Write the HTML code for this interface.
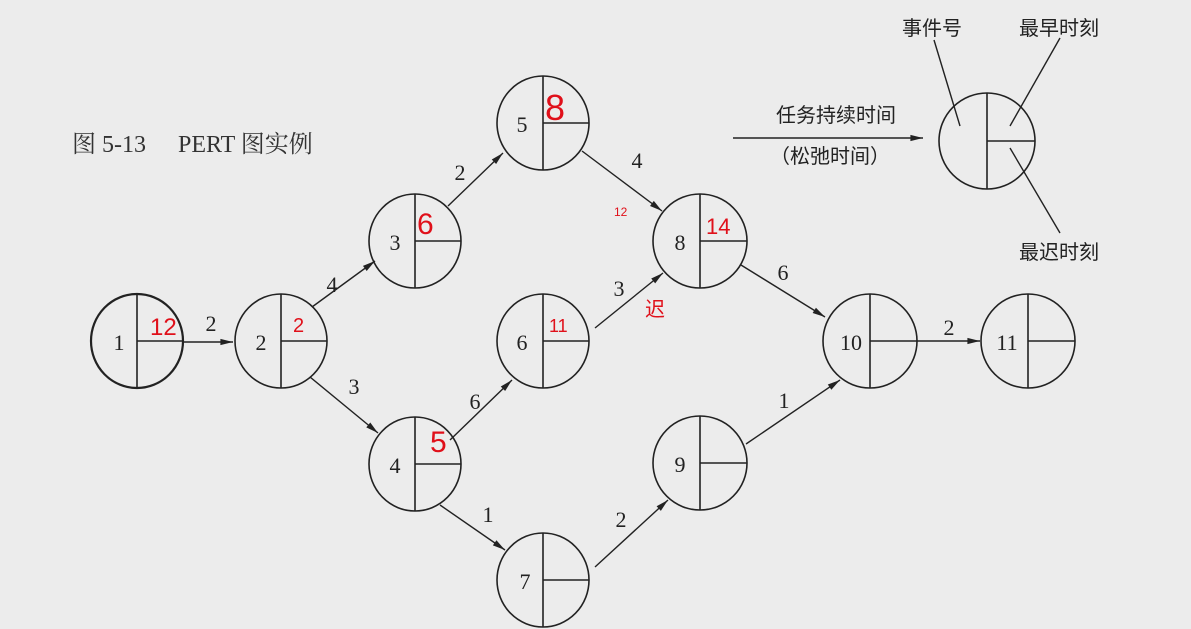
<!DOCTYPE html>
<html><head><meta charset="utf-8"><style>
html,body{margin:0;padding:0;background:#ececec;}
svg{display:block;}
.t{font-family:"Liberation Serif",serif;font-size:22px;fill:#222;}
.c{font-family:"Liberation Sans","Noto Sans CJK SC",sans-serif;font-size:20px;fill:#222;}
.r{font-family:"Liberation Sans",sans-serif;fill:none;stroke:#e0101a;stroke-width:1.3;}
</style></head><body>
<svg width="1191" height="629" viewBox="0 0 1191 629" xmlns="http://www.w3.org/2000/svg">
<defs><marker id="a" viewBox="0 0 14 10" refX="14" refY="5" markerWidth="14" markerHeight="9" orient="auto" markerUnits="userSpaceOnUse"><path d="M0,1.5 L14,5 L0,8.5z" fill="#222"/></marker></defs>
<rect width="1191" height="629" fill="#ececec"/>
<text x="72" y="152" font-family="'Liberation Serif','Noto Serif CJK SC',serif" font-size="24" fill="#333">图 5-13</text>
<text x="178" y="152" font-family="'Liberation Serif','Noto Serif CJK SC',serif" font-size="24" fill="#333">PERT 图实例</text>
<g stroke="#222" stroke-width="1.4" fill="none">
<line x1="183" y1="342" x2="233" y2="342" marker-end="url(#a)"/>
<line x1="312" y1="307" x2="375" y2="261" marker-end="url(#a)"/>
<line x1="310" y1="377" x2="378" y2="433" marker-end="url(#a)"/>
<line x1="448" y1="206" x2="503" y2="153" marker-end="url(#a)"/>
<line x1="450" y1="440" x2="512" y2="380" marker-end="url(#a)"/>
<line x1="440" y1="505" x2="505" y2="550" marker-end="url(#a)"/>
<line x1="582" y1="151" x2="662" y2="211" marker-end="url(#a)"/>
<line x1="595" y1="328" x2="663" y2="273" marker-end="url(#a)"/>
<line x1="595" y1="567" x2="668" y2="500" marker-end="url(#a)"/>
<line x1="741" y1="265" x2="825" y2="317" marker-end="url(#a)"/>
<line x1="746" y1="444" x2="840" y2="380" marker-end="url(#a)"/>
<line x1="917" y1="341" x2="980" y2="341" marker-end="url(#a)"/>
<line x1="733" y1="138" x2="923" y2="138" marker-end="url(#a)"/>
<line x1="934" y1="40" x2="960" y2="126"/>
<line x1="1060" y1="38" x2="1010" y2="126"/>
<line x1="1010" y1="148" x2="1060" y2="233"/>
</g>
<g stroke="#222" stroke-width="1.6" fill="none">
<ellipse cx="137" cy="341" rx="46" ry="47" stroke-width="2.2"/><path d="M137 294V388M137 341H183"/>
<ellipse cx="281" cy="341" rx="46" ry="47"/><path d="M281 294V388M281 341H327"/>
<ellipse cx="415" cy="241" rx="46" ry="47"/><path d="M415 194V288M415 241H461"/>
<ellipse cx="415" cy="464" rx="46" ry="47"/><path d="M415 417V511M415 464H461"/>
<ellipse cx="543" cy="123" rx="46" ry="47"/><path d="M543 76V170M543 123H589"/>
<ellipse cx="543" cy="341" rx="46" ry="47"/><path d="M543 294V388M543 341H589"/>
<ellipse cx="543" cy="580" rx="46" ry="47"/><path d="M543 533V627M543 580H589"/>
<ellipse cx="700" cy="241" rx="47" ry="47"/><path d="M700 194V288M700 241H747"/>
<ellipse cx="700" cy="463" rx="47" ry="47"/><path d="M700 416V510M700 463H747"/>
<ellipse cx="870" cy="341" rx="47" ry="47"/><path d="M870 294V388M870 341H917"/>
<ellipse cx="1028" cy="341" rx="47" ry="47"/><path d="M1028 294V388M1028 341H1075"/>
<ellipse cx="987" cy="141" rx="48" ry="48"/><path d="M987 93V189M987 141H1035"/>
</g>
<g class="t" text-anchor="middle">
<text x="119" y="350">1</text><text x="261" y="350">2</text><text x="395" y="250">3</text>
<text x="395" y="473">4</text><text x="522" y="132">5</text><text x="522" y="350">6</text>
<text x="525" y="589">7</text><text x="680" y="250">8</text><text x="680" y="472">9</text>
<text x="851" y="350">10</text><text x="1007" y="350">11</text>
<text x="211" y="331">2</text><text x="332" y="292">4</text><text x="354" y="394">3</text>
<text x="460" y="180">2</text><text x="637" y="168">4</text><text x="475" y="409">6</text>
<text x="619" y="296">3</text><text x="488" y="522">1</text><text x="621" y="527">2</text>
<text x="783" y="280">6</text><text x="784" y="408">1</text><text x="949" y="335">2</text>
</g>
<g class="c" text-anchor="middle">
<text x="836" y="122">任务持续时间</text>
<text x="830" y="163">（松弛时间）</text>
<text x="932" y="35">事件号</text>
<text x="1059" y="35">最早时刻</text>
<text x="1059" y="259">最迟时刻</text>
</g>
<g fill="#e0101a" font-family="'Liberation Sans',sans-serif">
<text x="150" y="335" font-size="24" font-weight="300">12</text>
<text x="293" y="332" font-size="20">2</text>
<text x="417" y="234" font-size="30">6</text>
<text x="545" y="120" font-size="36">8</text>
<text x="549" y="332" font-size="18">11</text>
<text x="430" y="452" font-size="30">5</text>
<text x="614" y="216" font-size="12">12</text>
<text x="706" y="234" font-size="22">14</text>
<text x="645" y="316" font-size="20" font-family="'Noto Sans CJK SC',sans-serif">迟</text>
</g>
</svg>
</body></html>
